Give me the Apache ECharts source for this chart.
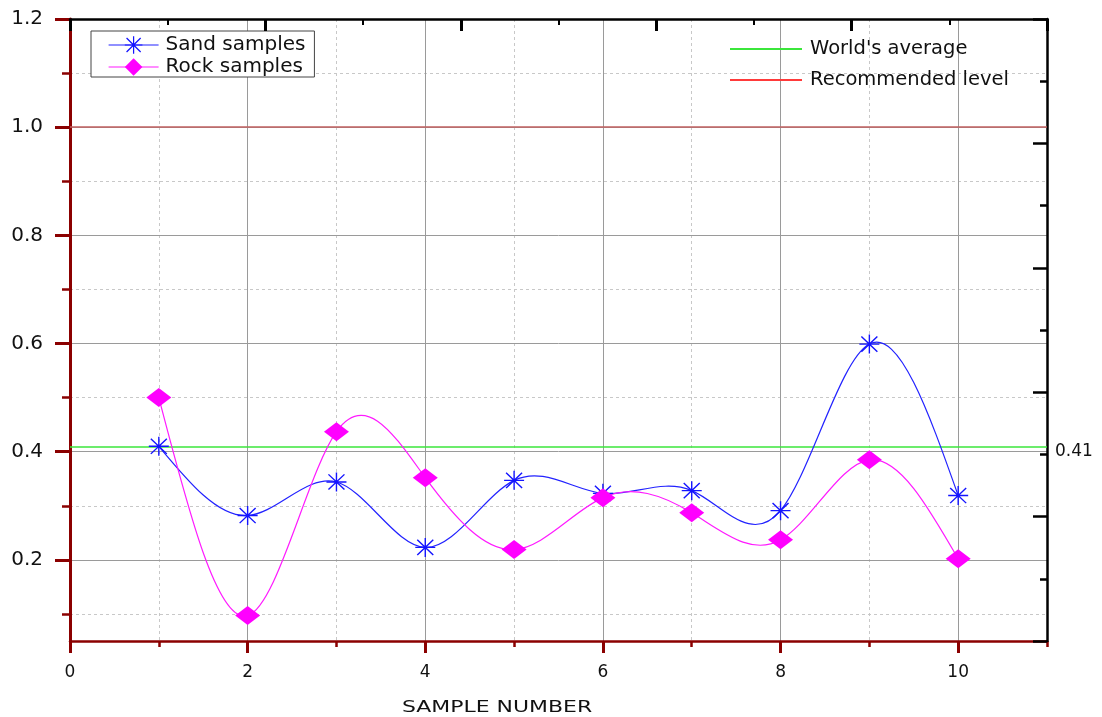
<!DOCTYPE html>
<html>
<head>
<meta charset="utf-8">
<script src="https://cdn.jsdelivr.net/npm/echarts@6/dist/echarts.min.js"></script>
<style>
  html, body { margin: 0; padding: 0; background: #fff; }
  #chart { width: 1102px; height: 717px; }
</style>
</head>
<body>
<div id="chart"></div>
<script>
// Sample measurements
const sampleNumbers = [1, 2, 3, 4, 5, 6, 7, 8, 9, 10];
const sandSamples = [0.41, 0.282, 0.344, 0.223, 0.347, 0.323, 0.328, 0.291, 0.599, 0.319];
const rockSamples = [0.5, 0.097, 0.437, 0.352, 0.219, 0.315, 0.287, 0.237, 0.385, 0.202];

// Reference levels
const worldAverage = 0.41;
const recommendedLevel = 1.0;

// Tick positions
const yMajorTicks = [0.2, 0.4, 0.6, 0.8, 1.0, 1.2];
const yMinorTicks = [0.1, 0.3, 0.5, 0.7, 0.9, 1.1];
const xMajorTicks = [0, 2, 4, 6, 8, 10];
const xMinorTicks = [1, 3, 5, 7, 9, 11];

const FONT = 'DejaVu Sans';
const AXIS_RED = '#8b0000';
const GRID_SOLID = '#9a9a9a';
const GRID_DASH = '#c8c8c8';
const SAND_COLOR = '#2222ff';
const ROCK_COLOR = '#ff1aff';

// Eight-armed asterisk marker
const starPath = 'path://M0 46.5H100V53.5H0Z M46.5 0H53.5V100H46.5Z ' +
  'M12.5 7.5L92.5 87.5L87.5 92.5L7.5 12.5Z M87.5 7.5L92.5 12.5L12.5 92.5L7.5 87.5Z';

const toPoints = (vals) => sampleNumbers.map((x, i) => [x, vals[i]]);

// Natural cubic spline: second derivatives at each knot
function splineSecondDerivs(xs, ys) {
  const n = xs.length;
  const M = new Array(n).fill(0);
  if (n < 3) return M;
  const a = [], b = [], c = [], d = [];
  for (let i = 1; i < n - 1; i++) {
    const h0 = xs[i] - xs[i - 1], h1 = xs[i + 1] - xs[i];
    a.push(h0); b.push(2 * (h0 + h1)); c.push(h1);
    d.push(6 * ((ys[i + 1] - ys[i]) / h1 - (ys[i] - ys[i - 1]) / h0));
  }
  const m = b.length;
  for (let i = 1; i < m; i++) {
    const w = a[i] / b[i - 1];
    b[i] -= w * c[i - 1];
    d[i] -= w * d[i - 1];
  }
  const sol = new Array(m);
  sol[m - 1] = d[m - 1] / b[m - 1];
  for (let i = m - 2; i >= 0; i--) sol[i] = (d[i] - c[i] * sol[i + 1]) / b[i];
  for (let i = 0; i < m; i++) M[i + 1] = sol[i];
  return M;
}

// Custom renderer: each point draws the spline segment to the next point as a Bezier curve
function splineRenderer(vals, color) {
  const M = splineSecondDerivs(sampleNumbers, vals);
  return function (params, api) {
    const i = params.dataIndex;
    if (i >= sampleNumbers.length - 1) return null;
    const x0 = sampleNumbers[i], x1 = sampleNumbers[i + 1];
    const y0 = vals[i], y1 = vals[i + 1];
    const h = x1 - x0;
    const s0 = (y1 - y0) / h - h * (2 * M[i] + M[i + 1]) / 6;
    const s1 = (y1 - y0) / h + h * (M[i] + 2 * M[i + 1]) / 6;
    const p0 = api.coord([x0, y0]);
    const p1 = api.coord([x1, y1]);
    const c0 = api.coord([x0 + h / 3, y0 + s0 * h / 3]);
    const c1 = api.coord([x1 - h / 3, y1 - s1 * h / 3]);
    return {
      type: 'bezierCurve',
      shape: { x1: p0[0], y1: p0[1], x2: p1[0], y2: p1[1], cpx1: c0[0], cpy1: c0[1], cpx2: c1[0], cpy2: c1[1] },
      style: { stroke: color, lineWidth: 1.2, fill: null }
    };
  };
}

const chart = echarts.init(document.getElementById('chart'), null, { renderer: 'canvas' });

const option = {
  animation: false,
  backgroundColor: '#ffffff',
  grid: { left: 70, right: 55, top: 19, bottom: 76, containLabel: false },
  legend: [
    {
      data: ['Sand samples', 'Rock samples'],
      orient: 'vertical',
      left: 91,
      top: 31,
      width: 223,
      padding: [4, 9, 0, 17],
      itemGap: 2,
      itemWidth: 50,
      itemHeight: 22,
      backgroundColor: '#ffffff',
      borderColor: '#444444',
      borderWidth: 1,
      borderRadius: 0,
      selectedMode: false,
      lineStyle: { opacity: 1, width: 1.2 },
      textStyle: { fontFamily: FONT, fontSize: 20, color: '#111', padding: [0, 0, 0, 2] }
    },
    {
      data: [
        { name: "World's average", icon: 'rect' },
        { name: 'Recommended level', icon: 'rect' }
      ],
      orient: 'vertical',
      left: 730,
      top: 39,
      padding: 0,
      itemGap: 11,
      itemWidth: 72,
      itemHeight: 2,
      selectedMode: false,
      textStyle: { fontFamily: FONT, fontSize: 19.5, color: '#111', padding: [0, 0, 0, 3] }
    }
  ],
  xAxis: [
    {
      // main sample axis: major ticks, labels, solid grid
      type: 'value', position: 'bottom', min: 0, max: 11,
      axisLine: { show: true, onZero: false, lineStyle: { color: AXIS_RED, width: 2.5 } },
      axisTick: { show: true, inside: false, length: 12, customValues: xMajorTicks, lineStyle: { color: AXIS_RED, width: 3 } },
      axisLabel: { show: true, customValues: xMajorTicks, margin: 23, fontFamily: FONT, fontSize: 17, color: '#111',
        formatter: (v) => String(Math.round(v)) },
      splitLine: { show: true, lineStyle: { color: GRID_SOLID, width: 1, type: 'solid' } },
      z: 3
    },
    {
      // minor sample ticks with dashed grid
      type: 'value', position: 'bottom', min: 0, max: 11,
      axisLine: { show: false, onZero: false },
      axisTick: { show: true, inside: false, length: 6, customValues: xMinorTicks, lineStyle: { color: AXIS_RED, width: 2.5 } },
      axisLabel: { show: false },
      splitLine: { show: true, lineStyle: { color: GRID_DASH, width: 1, type: [3, 3] } },
      z: 2
    },
    {
      // top frame axis
      type: 'value', position: 'top', min: 0, max: 10, interval: 2,
      axisLine: { show: true, onZero: false, lineStyle: { color: '#000', width: 2.5 } },
      axisTick: { show: true, inside: true, length: 12, lineStyle: { color: '#000', width: 3 } },
      minorTick: { show: true, splitNumber: 2, length: 6, lineStyle: { color: '#000', width: 2 } },
      axisLabel: { show: false },
      splitLine: { show: false },
      z: 4
    }
  ],
  yAxis: [
    {
      // main value axis: major ticks, labels, solid grid
      type: 'value', position: 'left', min: 0.05, max: 1.2,
      axisLine: { show: true, onZero: false, lineStyle: { color: AXIS_RED, width: 3 } },
      axisTick: { show: true, inside: false, length: 15, customValues: yMajorTicks, lineStyle: { color: AXIS_RED, width: 3 } },
      axisLabel: { show: true, customValues: yMajorTicks, margin: 27, fontFamily: FONT, fontSize: 20, color: '#111',
        formatter: (v) => v.toFixed(1) },
      splitLine: { show: true, lineStyle: { color: GRID_SOLID, width: 1, type: 'solid' } },
      z: 3
    },
    {
      // minor value ticks with dashed grid
      type: 'value', position: 'left', min: 0.05, max: 1.2,
      axisLine: { show: false, onZero: false },
      axisTick: { show: true, inside: false, length: 8, customValues: yMinorTicks, lineStyle: { color: AXIS_RED, width: 2.5 } },
      axisLabel: { show: false },
      splitLine: { show: true, lineStyle: { color: GRID_DASH, width: 1, type: [3, 3] } },
      z: 2
    },
    {
      // right frame axis
      type: 'value', position: 'right', min: 0, max: 10, interval: 2,
      axisLine: { show: true, onZero: false, lineStyle: { color: '#000', width: 2.5 } },
      axisTick: { show: true, inside: true, length: 14, lineStyle: { color: '#000', width: 2.5 } },
      minorTick: { show: true, splitNumber: 2, length: 7, lineStyle: { color: '#000', width: 2.5 } },
      axisLabel: { show: false },
      splitLine: { show: false },
      z: 4
    }
  ],
  series: [
    {
      name: "World's average",
      type: 'line',
      data: [],
      itemStyle: { color: '#3be63b' },
      lineStyle: { color: '#3be63b' },
      markLine: {
        silent: true,
        symbol: ['none', 'none'],
        lineStyle: { color: '#3be63b', width: 1.5, type: 'solid' },
        label: { show: true, position: 'end', distance: 8, formatter: String(worldAverage),
          fontFamily: FONT, fontSize: 17, color: '#111', verticalAlign: 'top', lineHeight: 10 },
        data: [{ yAxis: worldAverage }]
      },
      z: 4
    },
    {
      name: 'Recommended level',
      type: 'line',
      data: [],
      itemStyle: { color: '#ff3a3a' },
      lineStyle: { color: '#ff3a3a' },
      markLine: {
        silent: true,
        symbol: ['none', 'none'],
        lineStyle: { color: '#c06060', width: 1.5, type: 'solid' },
        label: { show: false },
        data: [{ yAxis: recommendedLevel }]
      },
      z: 4
    },
    {
      // spline through sand samples
      type: 'custom',
      data: toPoints(sandSamples),
      encode: { x: 0, y: 1 },
      renderItem: splineRenderer(sandSamples, SAND_COLOR),
      silent: true,
      z: 5
    },
    {
      // spline through rock samples
      type: 'custom',
      data: toPoints(rockSamples),
      encode: { x: 0, y: 1 },
      renderItem: splineRenderer(rockSamples, ROCK_COLOR),
      silent: true,
      z: 5
    },
    {
      name: 'Sand samples',
      type: 'line',
      data: toPoints(sandSamples),
      symbol: starPath,
      symbolSize: [20, 19],
      showAllSymbol: true,
      itemStyle: { color: '#1414ff' },
      lineStyle: { color: SAND_COLOR, width: 1.2, opacity: 0 },
      z: 6
    },
    {
      name: 'Rock samples',
      type: 'line',
      data: toPoints(rockSamples),
      symbol: 'diamond',
      symbolSize: [25, 19],
      showAllSymbol: true,
      itemStyle: { color: '#ff00ff' },
      lineStyle: { color: ROCK_COLOR, width: 1.2, opacity: 0 },
      z: 7
    }
  ],
  graphic: [
    {
      type: 'text',
      left: 402,
      top: 699,
      scaleX: 1.33,
      style: { text: 'SAMPLE NUMBER', fontFamily: FONT, fontSize: 16.5, fill: '#111' }
    }
  ]
};

chart.setOption(option);
</script>
</body>
</html>
